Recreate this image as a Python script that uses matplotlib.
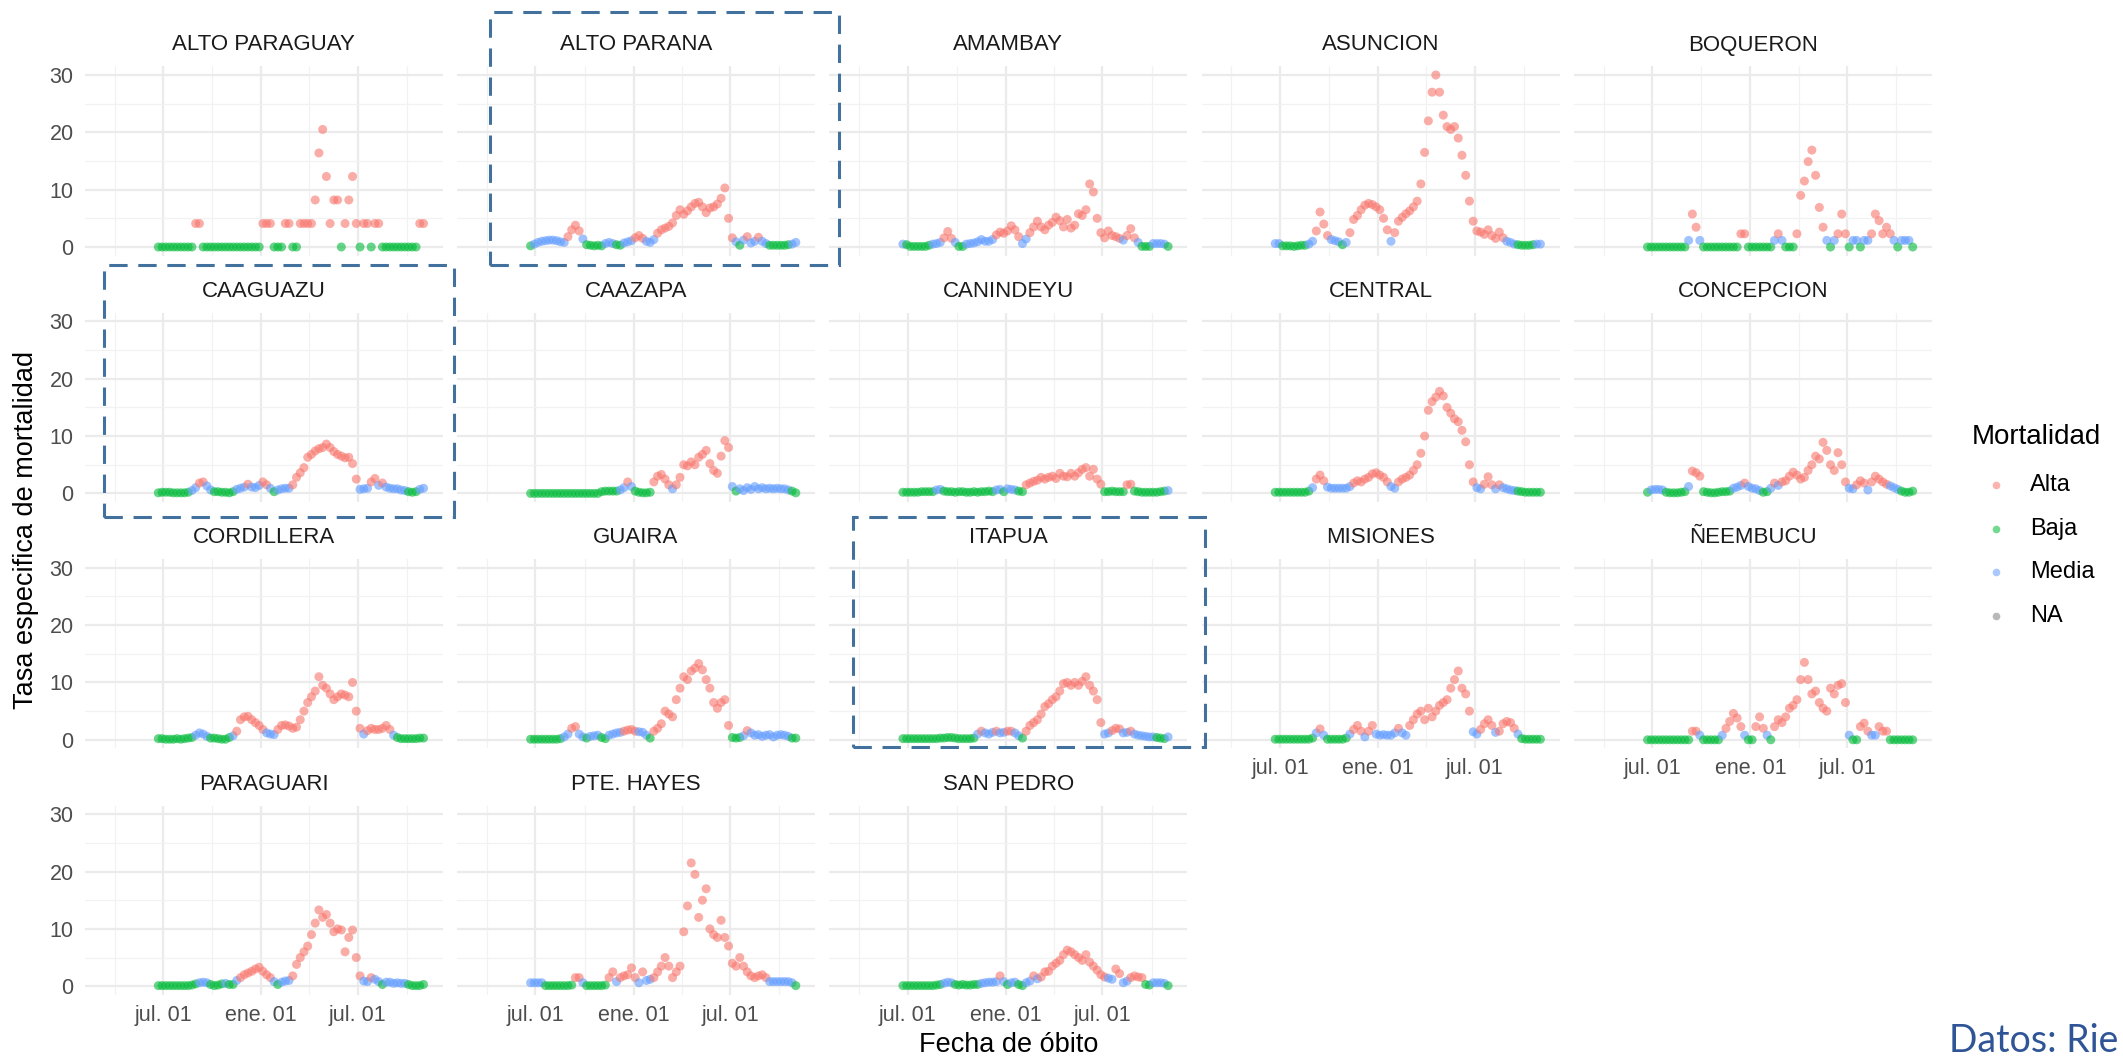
import matplotlib
matplotlib.use("Agg")
import matplotlib.pyplot as plt
import matplotlib.dates as mdates
from matplotlib.lines import Line2D
from matplotlib.patches import Rectangle
import pandas as pd

plt.rcParams["font.family"] = ["Liberation Sans", "DejaVu Sans"]

# weekly readings taken off the chart, first point 2020-06-22
fechas = pd.date_range("2020-06-22", periods=72, freq="7D")

alto_paraguay = [
    0, 0, 0, 0, 0, 0, 0, 0, 0, 0, 4.1, 4.1,
    0, 0, 0, 0, 0, 0, 0, 0, 0, 0, 0, 0,
    0, 0, 0, 0, 4.1, 4.1, 4.1, 0, 0, 0, 4.1, 4.1,
    0, 0, 4.1, 4.1, 4.1, 4.1, 8.2, 16.4, 20.5, 12.3, 4.1, 8.2,
    8.2, 0, 4.1, 8.2, 12.3, 4.1, 0, 4.1, 4.1, 0, 4.1, 4.1,
    0, 0, 0, 0, 0, 0, 0, 0, 0, 0, 4.1, 4.1]
alto_parana = [
    0.2, 0.5, 0.8, 1.0, 1.1, 1.2, 1.2, 1.1, 0.9, 0.8, 1.8, 3.0,
    3.8, 2.8, 1.4, 0.4, 0.3, 0.2, 0.3, 0.2, 0.6, 0.8, 0.6, 0.4,
    0.3, 0.7, 0.9, 1.1, 1.6, 2.0, 1.5, 1.0, 0.8, 1.3, 2.4, 3.0,
    3.3, 3.6, 4.2, 5.5, 6.5, 5.7, 6.3, 7.0, 7.6, 7.8, 7.0, 6.0,
    6.8, 7.0, 7.5, 8.5, 10.3, 5.0, 1.6, 0.9, 0.3, 1.2, 1.8, 0.7,
    1.0, 1.7, 1.0, 0.6, 0.3, 0.3, 0.3, 0.3, 0.3, 0.4, 0.5, 0.8]
amambay = [
    0.5, 0.4, 0.1, 0.1, 0.1, 0.1, 0.1, 0.3, 0.5, 0.6, 0.8, 1.6,
    2.7, 1.5, 0.8, 0.1, 0.1, 0.5, 0.6, 0.7, 0.9, 1.3, 1.0, 1.0,
    1.3, 2.1, 2.6, 2.4, 2.8, 3.7, 3.0, 1.8, 0.6, 1.4, 2.5, 3.5,
    4.5, 3.5, 3.0, 3.8, 4.3, 5.2, 4.6, 3.5, 4.8, 3.3, 3.8, 5.8,
    5.5, 6.5, 11.0, 9.6, 5.0, 2.5, 1.6, 2.8, 2.0, 1.8, 1.5, 1.2,
    2.0, 3.2, 1.6, 0.8, 0.1, 0.1, 0.1, 0.6, 0.6, 0.6, 0.5, 0.1]
asuncion = [
    0.6, 0.6, 0.2, 0.2, 0.2, 0.1, 0.2, 0.3, 0.3, 0.5, 1.0, 2.8,
    6.1, 4.0, 2.0, 1.3, 1.1, 0.9, 0.4, 0.8, 2.5, 4.8, 5.5, 6.5,
    7.3, 7.6, 7.4, 7.0, 6.5, 5.0, 3.0, 1.0, 2.5, 4.5, 5.2, 5.8,
    6.3, 7.0, 8.0, 11.0, 16.5, 22.0, 27.0, 30.0, 27.0, 23.0, 21.0, 20.5,
    21.0, 19.0, 16.0, 12.5, 8.0, 4.5, 2.8, 2.6, 2.2, 3.0, 2.0, 1.5,
    2.6, 1.6, 1.0, 0.8, 0.5, 0.4, 0.3, 0.3, 0.3, 0.4, 0.5, 0.5]
boqueron = [
    0, 0, 0, 0, 0, 0, 0, 0, 0, 0, 0, 1.15,
    5.75, 3.45, 1.15, 0, 0, 0, 0, 0, 0, 0, 0, 0,
    0, 2.3, 2.3, 0, 0, 0, 0, 0, 0, 0, 1.15, 2.3,
    1.15, 0, 0, 0, 2.3, 9.0, 11.5, 14.9, 16.9, 12.5, 6.9, 3.45,
    1.15, 0, 1.15, 2.3, 5.75, 2.3, 0, 1.15, 1.15, 0, 1.15, 1.15,
    2.3, 5.75, 4.6, 2.3, 3.45, 2.3, 1.15, 0, 1.15, 1.15, 1.15, 0]
caaguazu = [
    0.1, 0.2, 0.2, 0.2, 0.1, 0.1, 0.1, 0.1, 0.2, 0.5, 1.0, 1.8,
    2.0, 1.3, 0.6, 0.3, 0.3, 0.2, 0.2, 0.1, 0.3, 0.7, 0.9, 1.1,
    1.6, 1.1, 1.0, 1.4, 2.0, 1.5, 0.9, 0.3, 0.6, 0.8, 0.9, 0.9,
    1.5, 2.8, 3.6, 4.5, 6.3, 6.8, 7.4, 7.8, 8.0, 8.6, 8.0, 7.3,
    6.8, 6.5, 6.2, 6.3, 5.2, 2.5, 0.7, 0.8, 0.9, 2.0, 2.6, 1.4,
    1.8, 1.1, 0.9, 0.8, 0.8, 0.6, 0.5, 0.3, 0.2, 0.3, 0.7, 0.9]
caazapa = [
    0, 0, 0, 0, 0, 0, 0, 0, 0, 0, 0, 0,
    0, 0, 0, 0, 0, 0, 0, 0.3, 0.4, 0.4, 0.4, 0.4,
    0.6, 1.0, 2.0, 1.2, 0.4, 0.2, 0.1, 0.1, 0.2, 2.0, 3.0, 3.3,
    2.5, 1.5, 0.8, 1.5, 2.8, 5.0, 4.8, 5.5, 5.0, 6.3, 6.8, 7.5,
    5.2, 4.0, 3.5, 6.5, 9.2, 8.0, 1.2, 0.4, 0.8, 0.5, 1.0, 0.7,
    1.2, 0.8, 1.0, 0.8, 0.9, 0.8, 0.9, 0.8, 0.8, 0.6, 0.4, 0.1]
canindeyu = [
    0.2, 0.2, 0.2, 0.2, 0.2, 0.3, 0.3, 0.3, 0.3, 0.6, 0.7, 0.4,
    0.3, 0.3, 0.2, 0.3, 0.3, 0.2, 0.2, 0.3, 0.2, 0.3, 0.3, 0.4,
    0.3, 0.6, 0.7, 0.3, 0.8, 0.7, 0.6, 0.4, 0.3, 1.5, 1.8, 2.1,
    2.3, 2.8, 2.5, 2.8, 3.0, 2.6, 3.5, 3.0, 2.9, 3.5, 3.0, 3.6,
    4.2, 4.5, 3.0, 4.2, 2.5, 1.6, 0.3, 0.3, 0.4, 0.3, 0.3, 0.3,
    1.5, 1.6, 0.4, 0.3, 0.2, 0.2, 0.2, 0.2, 0.2, 0.3, 0.4, 0.5]
central = [
    0.2, 0.2, 0.2, 0.2, 0.2, 0.2, 0.2, 0.2, 0.2, 0.4, 1.0, 2.5,
    3.2, 2.2, 1.1, 0.9, 0.9, 0.9, 0.9, 0.9, 1.2, 1.8, 2.2, 2.0,
    2.5, 2.8, 3.4, 3.6, 3.2, 2.8, 2.0, 1.2, 0.9, 2.0, 2.5, 2.8,
    3.2, 4.0, 5.0, 7.0, 10.0, 14.5, 16.0, 16.8, 17.8, 17.0, 15.0, 14.0,
    13.0, 12.5, 11.0, 9.0, 5.0, 2.0, 1.0, 0.8, 1.6, 2.9, 1.5, 0.8,
    1.5, 1.0, 0.8, 0.6, 0.5, 0.4, 0.3, 0.2, 0.2, 0.2, 0.2, 0.2]
concepcion = [
    0.2, 0.6, 0.7, 0.7, 0.6, 0.2, 0.1, 0.1, 0.1, 0.2, 0.3, 1.2,
    3.9, 3.6, 3.0, 0.3, 0.2, 0.1, 0.1, 0.2, 0.3, 0.3, 0.4, 0.9,
    1.1, 1.4, 1.8, 1.2, 0.9, 0.8, 0.5, 0.2, 0.3, 0.9, 1.8, 1.4,
    2.0, 2.2, 3.0, 3.7, 3.2, 2.5, 2.8, 4.0, 5.0, 6.5, 6.0, 8.9,
    7.5, 5.0, 4.0, 7.1, 5.0, 2.0, 0.9, 0.8, 1.5, 2.2, 1.8, 0.6,
    2.0, 3.0, 2.5, 2.0, 1.6, 1.3, 1.0, 0.7, 0.4, 0.2, 0.2, 0.4]
cordillera = [
    0.2, 0.2, 0.1, 0.1, 0.1, 0.2, 0.1, 0.2, 0.3, 0.4, 0.8, 1.2,
    1.0, 0.6, 0.3, 0.3, 0.2, 0.1, 0.1, 0.4, 0.7, 1.5, 3.5, 4.0,
    4.1, 3.5, 3.0, 2.5, 1.8, 1.2, 1.0, 0.9, 1.8, 2.5, 2.6, 2.4,
    2.0, 2.2, 3.5, 5.0, 6.5, 7.5, 8.5, 11.0, 9.5, 9.0, 8.0, 7.0,
    7.5, 8.0, 7.8, 7.5, 10.0, 5.0, 2.0, 1.0, 1.6, 2.0, 1.8, 1.8,
    2.0, 2.5, 1.8, 0.8, 0.4, 0.2, 0.2, 0.2, 0.2, 0.2, 0.3, 0.3]
guaira = [
    0.1, 0.1, 0.1, 0.1, 0.1, 0.1, 0.1, 0.1, 0.2, 0.5, 1.0, 2.0,
    2.3, 1.0, 0.5, 0.3, 0.6, 0.7, 0.8, 0.4, 0.2, 0.8, 1.0, 1.2,
    1.3, 1.5, 1.7, 1.8, 1.5, 1.4, 1.3, 0.8, 0.3, 1.5, 2.0, 2.8,
    5.0, 4.5, 4.0, 7.0, 9.0, 11.0, 10.5, 12.0, 12.5, 13.3, 12.2, 10.5,
    9.0, 6.5, 5.5, 6.5, 7.0, 2.5, 0.4, 0.3, 0.4, 0.7, 1.6, 1.2,
    0.8, 0.9, 0.6, 0.8, 0.9, 0.5, 0.8, 0.9, 0.8, 0.6, 0.3, 0.3]
itapua = [
    0.2, 0.2, 0.2, 0.2, 0.2, 0.2, 0.2, 0.2, 0.2, 0.2, 0.3, 0.3,
    0.4, 0.4, 0.3, 0.2, 0.2, 0.2, 0.2, 0.3, 1.0, 1.5, 1.2, 1.0,
    1.3, 1.5, 1.2, 1.3, 1.5, 1.5, 1.2, 0.7, 0.3, 1.5, 2.5, 3.0,
    3.5, 4.5, 5.8, 6.3, 7.0, 7.5, 8.5, 9.8, 10.0, 9.5, 10.0, 9.5,
    10.2, 11.0, 9.5, 8.5, 7.0, 3.0, 1.0, 1.2, 1.6, 2.0, 1.9, 1.2,
    1.3, 1.5, 1.0, 0.8, 0.7, 0.6, 0.5, 0.5, 0.4, 0.3, 0.2, 0.5]
misiones = [
    0.1, 0.1, 0.1, 0.1, 0.1, 0.1, 0.1, 0.1, 0.1, 0.1, 0.3, 1.2,
    1.9, 0.8, 0.1, 0.1, 0.1, 0.1, 0.1, 0.3, 1.0, 1.8, 2.5, 1.5,
    0.5, 1.5, 2.5, 1.0, 0.8, 0.9, 0.8, 0.8, 1.2, 2.0, 1.2, 0.8,
    2.5, 3.5, 4.5, 5.0, 3.5, 5.5, 4.0, 5.0, 6.0, 6.5, 7.0, 9.0,
    10.5, 12.0, 9.0, 8.0, 5.0, 1.4, 1.0, 1.8, 2.8, 3.5, 2.5, 1.3,
    1.5, 2.8, 3.2, 3.0, 2.0, 1.0, 0.2, 0.1, 0.1, 0.1, 0.1, 0.1]
neembucu = [
    0, 0, 0, 0, 0, 0, 0, 0, 0, 0, 0, 0,
    1.5, 1.5, 0.8, 0, 0, 0, 0, 0, 0.8, 2.0, 3.2, 4.6,
    3.8, 2.3, 0.8, 0, 0, 2.3, 4.0, 2.0, 0.8, 0, 2.3, 3.5,
    3.0, 4.0, 5.5, 6.0, 7.0, 10.5, 13.5, 10.5, 8.0, 8.5, 6.5, 5.5,
    5.0, 9.0, 8.0, 9.5, 9.8, 6.5, 0.8, 0, 0, 2.3, 2.9, 1.5,
    0.8, 0.8, 2.3, 1.5, 1.5, 0, 0, 0, 0, 0, 0, 0]
paraguari = [
    0.1, 0.1, 0.1, 0.1, 0.1, 0.1, 0.1, 0.1, 0.1, 0.2, 0.4, 0.6,
    0.7, 0.6, 0.3, 0.1, 0.2, 0.4, 0.5, 0.3, 0.3, 1.0, 1.5, 2.0,
    2.3, 2.6, 3.0, 3.3, 2.6, 2.0, 1.5, 0.8, 0.3, 0.7, 0.9, 1.0,
    1.8, 3.8, 5.0, 6.0, 7.0, 9.0, 11.0, 13.3, 12.0, 12.5, 11.0, 9.5,
    10.0, 9.8, 6.0, 8.5, 9.8, 5.0, 1.8, 0.9, 0.8, 1.5, 1.2, 0.8,
    0.3, 0.7, 0.7, 0.5, 0.6, 0.5, 0.5, 0.3, 0.1, 0.1, 0.1, 0.3]
pte_hayes = [
    0.6, 0.6, 0.6, 0.6, 0.1, 0.1, 0.1, 0.1, 0.1, 0.1, 0.1, 0.2,
    1.5, 1.5, 0.6, 0.1, 0.1, 0.1, 0.1, 0.1, 0.2, 1.5, 2.5, 0.8,
    1.5, 1.8, 2.0, 3.2, 1.5, 0.6, 2.5, 1.0, 1.2, 1.5, 2.5, 3.5,
    5.0, 3.5, 1.5, 2.5, 3.5, 9.5, 14.0, 21.5, 19.5, 12.0, 15.0, 17.0,
    10.0, 9.0, 8.5, 11.5, 8.5, 7.0, 4.0, 3.5, 5.0, 3.5, 2.5, 1.8,
    1.5, 1.8, 2.0, 1.5, 0.8, 0.8, 0.8, 0.8, 0.8, 0.8, 0.6, 0.1]
san_pedro = [
    0.1, 0.1, 0.1, 0.1, 0.1, 0.1, 0.1, 0.1, 0.1, 0.2, 0.3, 0.5,
    0.7, 0.6, 0.3, 0.2, 0.3, 0.2, 0.2, 0.3, 0.3, 0.5, 0.6, 0.7,
    0.7, 0.8, 1.8, 0.8, 0.3, 0.6, 0.7, 0.3, 0.1, 0.6, 0.9, 1.8,
    1.3, 1.6, 2.5, 2.6, 3.5, 4.0, 4.5, 5.5, 6.3, 6.0, 5.5, 5.0,
    4.5, 5.5, 4.2, 3.5, 2.8, 2.0, 1.6, 1.4, 1.2, 3.0, 2.2, 0.6,
    0.9, 1.5, 1.8, 1.6, 1.5, 0.3, 0.2, 0.6, 0.6, 0.6, 0.5, 0.1]

departamentos = [
    ("ALTO PARAGUAY", alto_paraguay), ("ALTO PARANA", alto_parana),
    ("AMAMBAY", amambay), ("ASUNCION", asuncion), ("BOQUERON", boqueron),
    ("CAAGUAZU", caaguazu), ("CAAZAPA", caazapa), ("CANINDEYU", canindeyu),
    ("CENTRAL", central), ("CONCEPCION", concepcion),
    ("CORDILLERA", cordillera), ("GUAIRA", guaira), ("ITAPUA", itapua),
    ("MISIONES", misiones), ("ÑEEMBUCU", neembucu),
    ("PARAGUARI", paraguari), ("PTE. HAYES", pte_hayes),
    ("SAN PEDRO", san_pedro),
]

niveles = ["Alta", "Baja", "Media", "NA"]
colores = {"Alta": "#F8766D", "Baja": "#00BA38", "Media": "#619CFF", "NA": "#7F7F7F"}
BAJA_MAX = 0.45
MEDIA_MAX = 1.45

ticks_x = ["2020-07-01", "2021-01-01", "2021-07-01"]
ticks_x_lab = ["jul. 01", "ene. 01", "jul. 01"]
minor_x = ["2020-04-01", "2020-10-01", "2021-04-01", "2021-10-01"]


def categoria(v):
    if v < BAJA_MAX:
        return "Baja"
    if v < MEDIA_MAX:
        return "Media"
    return "Alta"


def to_num(dates):
    return mdates.date2num(pd.to_datetime(dates).to_pydatetime())


W, H = 2123, 1059
fig = plt.figure(figsize=(W / 100, H / 100), dpi=100)

LEFT0, COL_STEP, PANEL_W = 84.7, 372.3, 358
TOP0, ROW_STEP, PANEL_H = 66.4, 246.4, 189.2
x_num = to_num(fechas)
x_min = to_num(["2020-02-05"])[0]
x_max = to_num(["2021-12-07"])[0]

for i, (nombre, valores) in enumerate(departamentos):
    fila, col = divmod(i, 5)
    left = LEFT0 + col * COL_STEP
    top = TOP0 + fila * ROW_STEP
    ax = fig.add_axes([left / W, 1 - (top + PANEL_H) / H, PANEL_W / W, PANEL_H / H])

    ax.set_xlim(x_min, x_max)
    ax.set_ylim(-1.5, 31.5)
    ax.set_yticks([0, 10, 20, 30])
    ax.set_yticks([5, 15, 25], minor=True)
    ax.set_xticks(to_num(ticks_x))
    ax.set_xticks(to_num(minor_x), minor=True)
    ax.grid(which="major", color="#EBEBEB", linewidth=1.6)
    ax.grid(which="minor", color="#F2F2F2", linewidth=0.9)
    ax.set_axisbelow(True)
    for s in ax.spines.values():
        s.set_visible(False)
    ax.tick_params(which="both", length=0, labelsize=15.5, labelcolor="#4D4D4D")
    ax.tick_params(axis="y", pad=8)
    ax.tick_params(axis="x", pad=7)

    if col == 0:
        ax.set_yticklabels(["0", "10", "20", "30"])
    else:
        ax.set_yticklabels([])
    ultimo = (fila == 3) or (fila == 2 and col >= 3)
    if ultimo:
        ax.set_xticklabels(ticks_x_lab)
    else:
        ax.set_xticklabels([])

    cols = [colores[categoria(v)] for v in valores]
    ax.scatter(x_num, valores, s=42, c=cols, alpha=0.6, linewidths=0, zorder=3)

    ax.text(0.5, 1 + 21.4 / PANEL_H, nombre, transform=ax.transAxes,
            ha="center", va="center", fontsize=16, color="#1A1A1A")

# axis titles
fig.text(26 / W, 1 - 530 / H, "Tasa especifica de mortalidad", rotation=90,
         ha="center", va="center", fontsize=19.5, color="black")
fig.text(1009 / W, 1 - 1045 / H, "Fecha de óbito", ha="center", va="center",
         fontsize=19.5, color="black")

# legend
fig.text(1972 / W, 1 - 437 / H, "Mortalidad", ha="left", va="center",
         fontsize=20, color="black")
for k, nivel in enumerate(niveles):
    y = 485 + k * 43.5
    fig.add_artist(Line2D([1996 / W], [1 - y / H], marker="o", markersize=5.5,
                          markeredgewidth=0, color=colores[nivel], alpha=0.55,
                          linestyle="None", transform=fig.transFigure))
    fig.text(2030 / W, 1 - y / H, nivel, ha="left", va="center",
             fontsize=17, color="black")

# dashed highlight boxes
cajas = [(490, 12, 349, 253), (104, 265, 350, 252), (853, 517, 352, 230)]
for bx, by, bw, bh in cajas:
    fig.add_artist(Rectangle((bx / W, 1 - (by + bh) / H), bw / W, bh / H,
                             transform=fig.transFigure, fill=False,
                             edgecolor="#41719C", linewidth=2.2,
                             linestyle=(0, (6, 3.5))))

fig.text(2118 / W, 1 - 1041 / H, "Datos: Rie", ha="right", va="center",
         fontsize=27, color="#2F5597", family=["Lato", "DejaVu Sans"])

fig.savefig("out.png", dpi=100)
